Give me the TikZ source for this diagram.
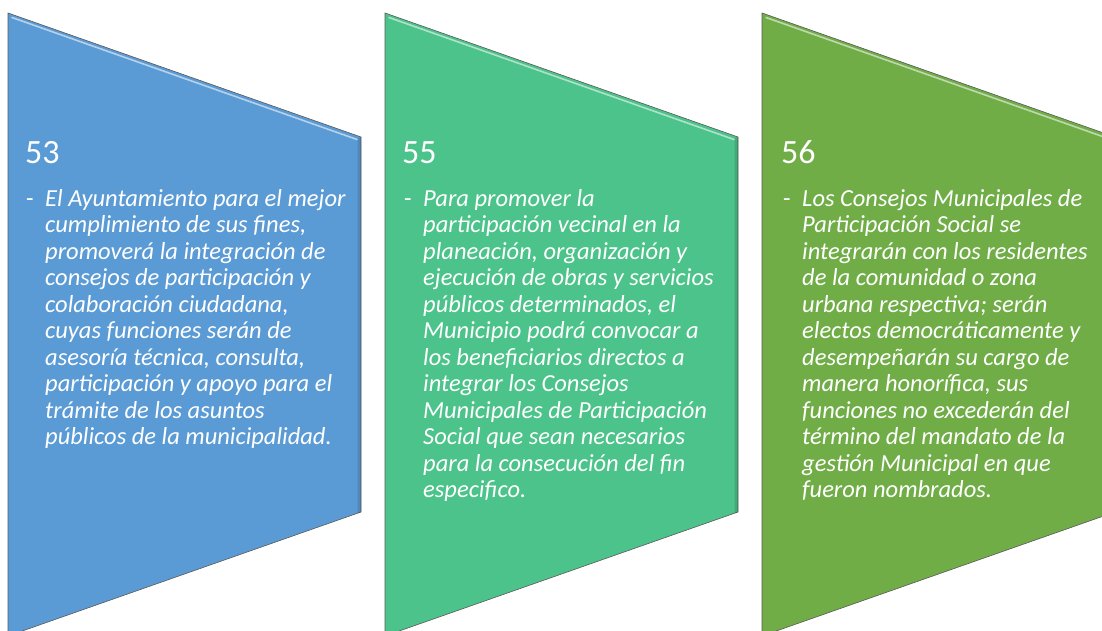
\documentclass[tikz,border=0pt]{standalone}
\usepackage{fontspec}
\setmainfont{Carlito}
\definecolor{cblue}{HTML}{5B9BD5}
\definecolor{cteal}{HTML}{4CC38A}
\definecolor{cgreen}{HTML}{70AD47}
\tikzset{
  chev/.style={fill=#1, draw=black!65, line width=0.6pt},
  hilite/.style={draw=white, opacity=0.55, line width=1.6pt, line cap=round},
  rshade/.style={fill=black, opacity=0.12},
  numlabel/.style={anchor=base west, inner sep=0pt, text=white, font=\fontsize{34}{40}\selectfont},
  dashlabel/.style={anchor=base west, inner sep=0pt, text=white, font=\fontsize{24.5}{26.5}\selectfont},
  bodytext/.style={anchor=base west, inner sep=0pt, text=white, font=\fontsize{24.5}{26.5}\selectfont\itshape}
}
\newcommand{\chevshape}[2]{%
  \path[chev=#2] (#1,13) -- (#1+353,137) -- (#1+353,512) -- (#1,636) -- cycle;
  \path[rshade] (#1+349.5,138.5) -- (#1+353,137) -- (#1+353,512) -- (#1+349.5,513.5) -- cycle;
  \draw[hilite] (#1+4,17.5) -- (#1+349,139.5);
}
\newcommand{\bodybox}[1]{\parbox[t]{340pt}{\raggedright #1}}
\begin{document}
\begin{tikzpicture}[x=1pt,y=-1pt]
\useasboundingbox (0,0) rectangle (1102,631);
\fill[white] (0,0) rectangle (1102,631);
\clip (0,0) rectangle (1102,631);
\chevshape{8}{cblue}
\chevshape{385}{cteal}
\chevshape{762}{cgreen}

\node[numlabel] (n53) at (25,164) {53};
\node[dashlabel] (d53) at (26,206) {-};
\node[bodytext] (t53) at (45,206) {\bodybox{El Ayuntamiento para el mejor\\
cumplimiento de sus fines,\\
promoverá la integración de\\
consejos de participación y\\
colaboración ciudadana,\\
cuyas funciones serán de\\
asesoría técnica, consulta,\\
participación y apoyo para el\\
trámite de los asuntos\\
públicos de la municipalidad.}};

\node[numlabel] (n55) at (402,164) {55};
\node[dashlabel] (d55) at (404,206) {-};
\node[bodytext] (t55) at (423,206) {\bodybox{Para promover la\\
participación vecinal en la\\
planeación, organización y\\
ejecución de obras y servicios\\
públicos determinados, el\\
Municipio podrá convocar a\\
los beneficiarios directos a\\
integrar los Consejos\\
Municipales de Participación\\
Social que sean necesarios\\
para la consecución del fin\\
especifico.}};

\node[numlabel] (n56) at (781,164) {56};
\node[dashlabel] (d56) at (783,206) {-};
\node[bodytext] (t56) at (802,206) {\bodybox{Los Consejos Municipales de\\
Participación Social se\\
integrarán con los residentes\\
de la comunidad o zona\\
urbana respectiva; serán\\
electos democráticamente y\\
desempeñarán su cargo de\\
manera honorífica, sus\\
funciones no excederán del\\
término del mandato de la\\
gestión Municipal en que\\
fueron nombrados.}};
\end{tikzpicture}
\end{document}
